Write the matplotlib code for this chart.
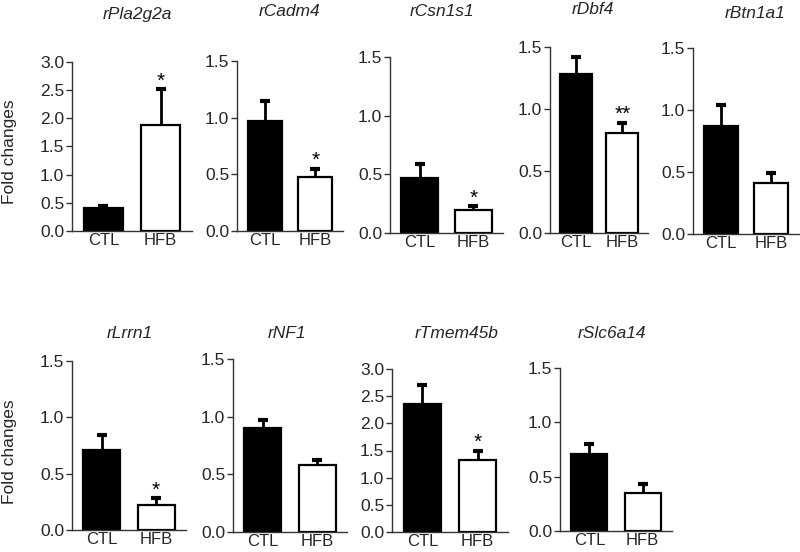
import matplotlib
matplotlib.use("Agg")
import matplotlib.pyplot as plt

plt.rcParams['font.family'] = ['Liberation Sans', 'DejaVu Sans']

# ---- data ----
genes = ['rPla2g2a', 'rCadm4', 'rCsn1s1', 'rDbf4', 'rBtn1a1',
         'rLrrn1', 'rNF1', 'rTmem45b', 'rSlc6a14']
groups = ['CTL', 'HFB']
ctl_mean = [0.40, 0.97, 0.47, 1.28, 0.87, 0.71, 0.90, 2.35, 0.71]
ctl_err = [0.05, 0.18, 0.12, 0.14, 0.17, 0.13, 0.07, 0.35, 0.09]
hfb_mean = [1.88, 0.48, 0.20, 0.81, 0.41, 0.22, 0.58, 1.32, 0.35]
hfb_err = [0.64, 0.07, 0.03, 0.08, 0.08, 0.06, 0.04, 0.18, 0.08]
stars = ['*', '*', '*', '**', '', '*', '', '*', '']
ymax = [3.0, 1.5, 1.5, 1.5, 1.5, 1.5, 1.5, 3.0, 1.5]
ylabel = 'Fold changes'

# ---- layout (pixels: left, right, top, bottom of axes) ----
W, H = 800, 552
boxes = [(72, 192, 62, 231), (237, 343, 61, 231), (390, 503, 57, 233),
         (550, 648, 47, 233), (693, 799, 48, 234),
         (72, 186, 361, 530), (233, 347, 359, 532), (392, 508, 369, 532),
         (560, 672, 368, 531)]
title_pos = [(137, 15), (290, 12), (442, 11), (593, 10), (755, 13),
             (130, 333), (287, 333), (457, 333), (612, 333)]

fig = plt.figure(figsize=(W / 100, H / 100), dpi=100)
txt = '#262626'
for i, g in enumerate(genes):
    l, r, t, b = boxes[i]
    ax = fig.add_axes([l / W, (H - b) / H, (r - l) / W, (b - t) / H])
    means = [ctl_mean[i], hfb_mean[i]]
    errs = [ctl_err[i], hfb_err[i]]
    ax.errorbar([0, 1], means, yerr=errs, fmt='none',
                ecolor='black', elinewidth=2, capsize=3.5, capthick=3,
                zorder=1)
    ax.bar([0, 1], means, width=0.68, color=['black', 'white'],
           edgecolor='black', linewidth=1.6, zorder=2)
    if stars[i]:
        ax.annotate(stars[i], xy=(1, hfb_mean[i] + hfb_err[i]),
                    xytext=(0, -1), textcoords='offset points',
                    ha='center', va='bottom', fontsize=15, color='black')
    ax.set_xlim(-0.55, 1.55)
    ax.set_ylim(0, ymax[i])
    n = int(round(ymax[i] / 0.5)) + 1
    ax.set_yticks([k * 0.5 for k in range(n)])
    ax.set_yticklabels([f'{k * 0.5:.1f}' for k in range(n)])
    ax.set_xticks([0, 1])
    ax.set_xticklabels(groups)
    ax.tick_params(axis='x', length=0, pad=1.5, labelsize=12, labelcolor=txt)
    ax.tick_params(axis='y', length=4, width=1, pad=1.5, labelsize=12.5,
                   labelcolor=txt, color='#333333')
    for s in ['top', 'right']:
        ax.spines[s].set_visible(False)
    for s in ['left', 'bottom']:
        ax.spines[s].set_linewidth(1)
        ax.spines[s].set_color('#333333')
    ax.patch.set_alpha(0)
    tx, ty = title_pos[i]
    fig.text(tx / W, 1 - ty / H, g, ha='center', va='center',
             fontsize=12.5, style='italic', color=txt)

fig.text(10 / W, 1 - 152 / H, ylabel, rotation=90, ha='center', va='center',
         fontsize=12.5, color=txt)
fig.text(10 / W, 1 - 452 / H, ylabel, rotation=90, ha='center', va='center',
         fontsize=12.5, color=txt)

fig.savefig('out.png', dpi=100)
